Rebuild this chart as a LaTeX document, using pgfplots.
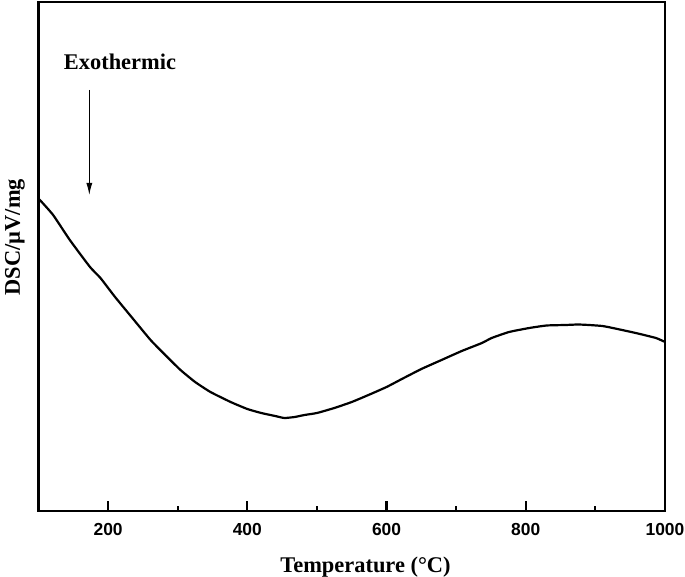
\documentclass[border=0pt]{standalone}
\usepackage{pgfplots}
\pgfplotsset{compat=1.18}
\usepackage{fontspec}
\setmainfont{Liberation Serif}
\setsansfont{Liberation Sans}
\usetikzlibrary{arrows.meta}
\pgfplotstableread{
T v
100 312
102 311
121 296
145 271
174 244
189 233
210 214
236 192
261 171
282 156
304 141
325 129
347 119
376 109
400 102
420 98
440 95
453 93
468 94
482 96
500 98
525 103
550 109
574 116
600 124
622 132
650 142
679 151
708 160
737 168
751 173
776 179
805 183
830 185.5
857 186
875 186.5
891 186
910 185
925 183
958 178
987 173
1000 169
}\dsc
\begin{document}
\begin{tikzpicture}
\begin{axis}[
  at={(0,0)}, anchor=south west,
  scale only axis,
  width=626.5bp, height=509bp,
  xmin=100, xmax=1000, ymin=0, ymax=509,
  xtick={200,400,600,800,1000},
  minor x tick num=1,
  ytick=\empty,
  xtick pos=bottom,
  tick align=inside,
  major tick length=10bp,
  minor tick length=5bp,
  every tick/.style={line width=2.2bp, black},
  axis line style={line width=2.5bp},
  /pgf/number format/assume math mode=true,
  /pgf/number format/1000 sep={},
  tick label style={font=\fontsize{17.5}{20}\selectfont\sffamily\bfseries},
  xticklabel style={yshift=-9bp},
  xlabel={Temperature (\textdegree C)},
  xlabel style={at={(axis description cs:0.522,0)}, anchor=base, inner sep=0pt, yshift=-61.5bp, font=\fontsize{22.5}{26}\selectfont\bfseries},
  ylabel={DSC/\textmu V/mg},
  ylabel style={at={(axis description cs:-0.0375,0.538)}, anchor=center, inner sep=0pt, font=\fontsize{22.5}{26}\selectfont\bfseries},
  clip=false,
]
\addplot[black, line width=2.2bp, smooth, tension=0.3] table[x=T, y=v] {\dsc};
\node[anchor=base, inner sep=0pt, font=\fontsize{22.5}{26}\selectfont\bfseries] at (axis cs:217,441) {Exothermic};
\draw[line width=1bp, -{Latex[length=12bp,width=6bp]}] (axis cs:173,421) -- (axis cs:173,316);
\end{axis}
\pgfresetboundingbox
\path (-38.5bp,-66bp) rectangle (646.5bp,511bp);
\end{tikzpicture}
\end{document}
